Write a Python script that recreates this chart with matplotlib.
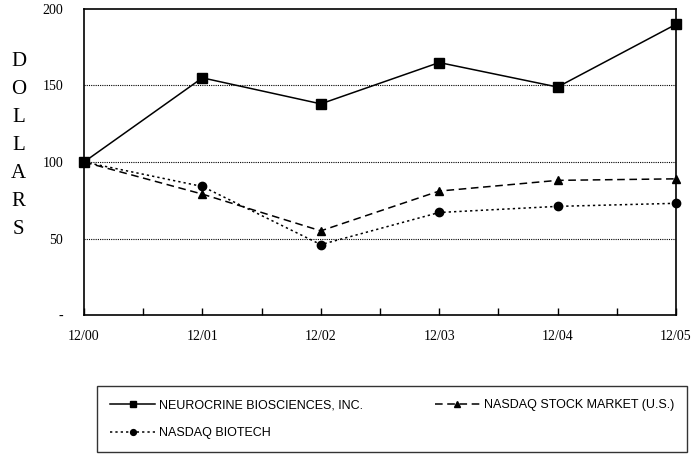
import matplotlib
matplotlib.use("Agg")
import matplotlib.pyplot as plt
import numpy as np

periods = ["12/00", "12/01", "12/02", "12/03", "12/04", "12/05"]
neurocrine = [100, 155, 138, 165, 149, 190]
nasdaq_market = [100, 79, 55, 81, 88, 89]
nasdaq_biotech = [100, 84, 46, 67, 71, 73]

fig = plt.figure(figsize=(6.94, 4.55), dpi=100)
ax = fig.add_axes([84 / 694, 1 - 315 / 455, 592 / 694, 306 / 455])

x = np.arange(len(periods))
h1, = ax.plot(x, neurocrine, color="black", lw=1.1, ls="-", marker="s", ms=7,
              label="NEUROCRINE BIOSCIENCES, INC.", clip_on=False)
h2, = ax.plot(x, nasdaq_market, color="black", lw=1.1, ls=(0, (5, 3)), marker="^", ms=6,
              label="NASDAQ STOCK MARKET (U.S.)", clip_on=False)
h3, = ax.plot(x, nasdaq_biotech, color="black", lw=1.1, ls=(0, (1.5, 2)), marker="o", ms=6,
              label="NASDAQ BIOTECH", clip_on=False)

for v in [50, 100, 150]:
    ax.axhline(v, color="black", lw=0.8, ls=(0, (1, 1)), zorder=0)

ax.set_xlim(0, 5)
ax.set_ylim(0, 200)
ax.set_xticks(x)
ax.set_xticklabels(periods)
ax.set_xticks(np.arange(0.5, 5, 0.5), minor=True)
ax.tick_params(axis="x", which="both", direction="in", length=5, width=1, pad=11)
ax.tick_params(axis="x", which="minor", labelbottom=False)
ax.set_yticks([0, 50, 100, 150, 200])
ax.set_yticklabels(["-", "50", "100", "150", "200"])
ax.tick_params(axis="y", length=0, pad=15)
for lab in ax.get_xticklabels() + ax.get_yticklabels():
    lab.set_fontfamily("Liberation Serif")
    lab.set_fontsize(10)
for s in ax.spines.values():
    s.set_linewidth(1.2)

for i, ch in enumerate("DOLLARS"):
    fig.text(0.027, 1 - (61 + i * 28) / 455, ch, fontfamily="Liberation Serif",
             fontsize=15, ha="center", va="center")

leg = fig.legend([h1, h3, h2], [h1.get_label(), h3.get_label(), h2.get_label()],
                 loc="lower left", bbox_to_anchor=(97 / 694, 3 / 455, 590 / 694, 66 / 455),
                 mode="expand", ncol=2, frameon=True, fancybox=False, borderaxespad=0,
                 edgecolor="black", prop={"family": "Liberation Sans", "size": 9},
                 handlelength=3.6, handletextpad=0.3, markerscale=0.7,
                 borderpad=1.05, labelspacing=1.25, columnspacing=2)
leg.get_frame().set_linewidth(1.0)

fig.savefig("out.png", dpi=100)
